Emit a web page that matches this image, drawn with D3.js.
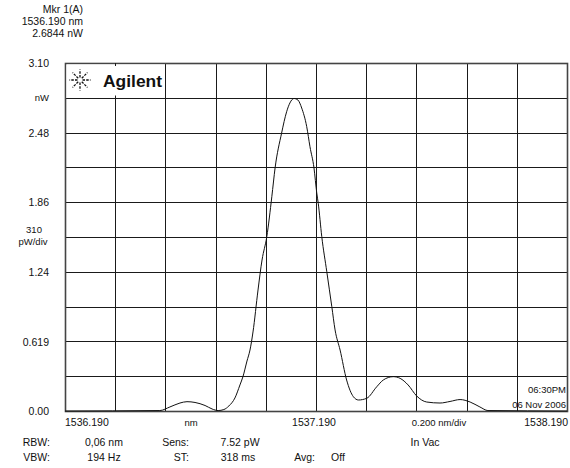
<!DOCTYPE html>
<html><head><meta charset="utf-8">
<script src="https://cdn.jsdelivr.net/npm/d3@7"></script>
<style>
body{margin:0;background:#fff;}
svg{display:block;}
text{font-family:"Liberation Sans",Arial,sans-serif;fill:#111;}
</style></head>
<body>
<svg id="c" width="570" height="468"></svg>
<script>
// ---- data ----
const wavelength = [1536.190,1536.568,1536.608,1536.648,1536.676,1536.708,1536.748,1536.776,1536.800,1536.823,1536.843,1536.867,1536.887,1536.899,1536.915,1536.927,1536.939,1536.959,1536.975,1536.994,1537.014,1537.027,1537.053,1537.073,1537.086,1537.102,1537.118,1537.133,1537.153,1537.166,1537.182,1537.193,1537.199,1537.213,1537.233,1537.253,1537.266,1537.286,1537.312,1537.339,1537.359,1537.392,1537.432,1537.458,1537.498,1537.525,1537.557,1537.591,1537.631,1537.684,1537.724,1537.764,1537.804,1537.843,1537.875,1538.190];
const power = [0,0.004,0.036,0.071,0.083,0.076,0.049,0.018,0.004,0.013,0.045,0.116,0.232,0.306,0.445,0.543,0.704,1.078,1.345,1.553,1.909,2.165,2.476,2.666,2.744,2.784,2.770,2.699,2.533,2.354,2.165,1.942,1.850,1.553,1.241,0.929,0.722,0.543,0.276,0.127,0.098,0.113,0.216,0.276,0.306,0.291,0.232,0.134,0.080,0.071,0.085,0.102,0.080,0.036,0.004,0];
const yTickValues = [3.10, 2.48, 1.86, 1.24, 0.619, 0.00];
const yTickLabels = ["3.10", "2.48", "1.86", "1.24", "0.619", "0.00"];
const xStart = 1536.190, xEnd = 1538.190, xDiv = 0.2;
const yTop = 3.10, yDivs = 10;
const markerLines = ["Mkr 1(A)", "1536.190 nm", "2.6844 nW"];

// ---- layout ----
const L = 65, R = 567, T = 63, B = 411;
const svg = d3.select("#c");
const x = d3.scaleLinear().domain([xStart, xEnd]).range([L, R]);
const y = d3.scaleLinear().domain([0, yTop]).range([B, T]);
const gridColor = "#1a1a1a";

// grid
const xGrid = d3.range(0, 11).map(i => xStart + i * xDiv);
const yGrid = d3.range(0, yDivs + 1).map(i => i * yTop / yDivs);
const g = svg.append("g");
g.selectAll("line.v").data(xGrid).join("line")
  .attr("x1", d => Math.round(x(d)) + 0.5).attr("x2", d => Math.round(x(d)) + 0.5)
  .attr("y1", T).attr("y2", B).attr("stroke", gridColor).attr("stroke-width", 1);
g.selectAll("line.h").data(yGrid).join("line")
  .attr("y1", d => Math.round(y(d)) + 0.5).attr("y2", d => Math.round(y(d)) + 0.5)
  .attr("x1", L).attr("x2", R + 1).attr("stroke", gridColor).attr("stroke-width", 1);
svg.append("rect").attr("x", L + 0.5).attr("y", T + 0.5).attr("width", R - L).attr("height", B - T)
  .attr("fill", "none").attr("stroke", "#444").attr("stroke-width", 1.6);

// logo cell
const cellR = Math.round(x(xStart + 2 * xDiv)) + 0.5, cellB = Math.round(y(yTop - yTop / yDivs)) + 0.5;
svg.append("rect").attr("x", L + 1.5).attr("y", T + 1.5).attr("width", cellR - L - 2).attr("height", cellB - T - 2).attr("fill", "#fff");
const midX = Math.round(x(xStart + xDiv)) + 0.5;
svg.append("line").attr("x1", midX).attr("x2", midX).attr("y1", T).attr("y2", T + 3).attr("stroke", gridColor);
svg.append("line").attr("x1", midX).attr("x2", midX).attr("y1", cellB - 3).attr("y2", cellB).attr("stroke", gridColor);
// starburst
const cx = 80, cy = 80;
const star = svg.append("g");
d3.range(0, 8).forEach(i => {
  const a = i * Math.PI / 4;
  const r1 = 2.5, r2 = 10.5;
  star.append("line")
    .attr("x1", cx + r1 * Math.cos(a)).attr("y1", cy + r1 * Math.sin(a))
    .attr("x2", cx + r2 * Math.cos(a)).attr("y2", cy + r2 * Math.sin(a))
    .attr("stroke", "#111").attr("stroke-width", 1.3).attr("stroke-dasharray", "2.5,1.2");
});
svg.append("text").attr("x", 103).attr("y", 87).attr("font-size", 16).attr("font-weight", "bold")
  .attr("textLength", 59).attr("lengthAdjust", "spacingAndGlyphs").text("Agilent");

// trace
const pts = wavelength.map((w, i) => [w, power[i]]);
const line = d3.line().x(d => x(d[0])).y(d => y(d[1])).curve(d3.curveMonotoneX);
svg.append("path").datum(pts).attr("d", line).attr("fill", "none").attr("stroke", "#111").attr("stroke-width", 1);

// y labels
const fs = 10.5;
svg.selectAll("text.yl").data(yTickValues).join("text")
  .attr("x", 49).attr("y", d => y(d) + 4).attr("text-anchor", "end").attr("font-size", fs)
  .text((d, i) => yTickLabels[i]);
svg.append("text").attr("x", 49).attr("y", y(yTop - yTop / yDivs) + 3).attr("text-anchor", "end").attr("font-size", 9.5).text("nW");
svg.append("text").attr("x", 34).attr("y", y(yTop / 2) - 4).attr("text-anchor", "middle").attr("font-size", 9.5).text("310");
svg.append("text").attr("x", 33).attr("y", y(yTop / 2) + 8).attr("text-anchor", "middle").attr("font-size", 9.5).text("pW/div");

// marker info
markerLines.forEach((t, i) => {
  svg.append("text").attr("x", 83).attr("y", 13 + i * 12).attr("text-anchor", "end").attr("font-size", fs).text(t);
});

// x labels
const xl = B + 15;
svg.append("text").attr("x", x(xStart)).attr("y", xl).attr("font-size", fs).text(xStart.toFixed(3));
svg.append("text").attr("x", 191).attr("y", xl).attr("text-anchor", "middle").attr("font-size", 9.5).text("nm");
svg.append("text").attr("x", x((xStart + xEnd) / 2) - 2).attr("y", xl).attr("text-anchor", "middle").attr("font-size", fs).text(((xStart + xEnd) / 2).toFixed(3));
svg.append("text").attr("x", 439).attr("y", xl).attr("text-anchor", "middle").attr("font-size", 9.5).text("0.200 nm/div");
svg.append("text").attr("x", R + 1).attr("y", xl).attr("text-anchor", "end").attr("font-size", fs).text(xEnd.toFixed(3));

// time stamps
svg.append("text").attr("x", 566).attr("y", 393).attr("text-anchor", "end").attr("font-size", 9.5).text("06:30PM");
svg.append("text").attr("x", 566).attr("y", 408).attr("text-anchor", "end").attr("font-size", 9.5).text("06 Nov 2006");

// settings rows
const rows = [
  [[50, "end", "RBW:"], [104, "middle", "0,06 nm"], [189, "end", "Sens:"], [240, "middle", "7.52 pW"], [425, "middle", "In Vac"]],
  [[50, "end", "VBW:"], [104, "middle", "194  Hz"], [189, "end", "ST:"], [238, "middle", "318 ms"], [315, "end", "Avg:"], [331, "start", "Off"]]
];
rows.forEach((r, ri) => r.forEach(c => {
  svg.append("text").attr("x", c[0]).attr("y", 446 + ri * 15).attr("text-anchor", c[1]).attr("font-size", fs).text(c[2]);
}));
</script>
</body></html>
